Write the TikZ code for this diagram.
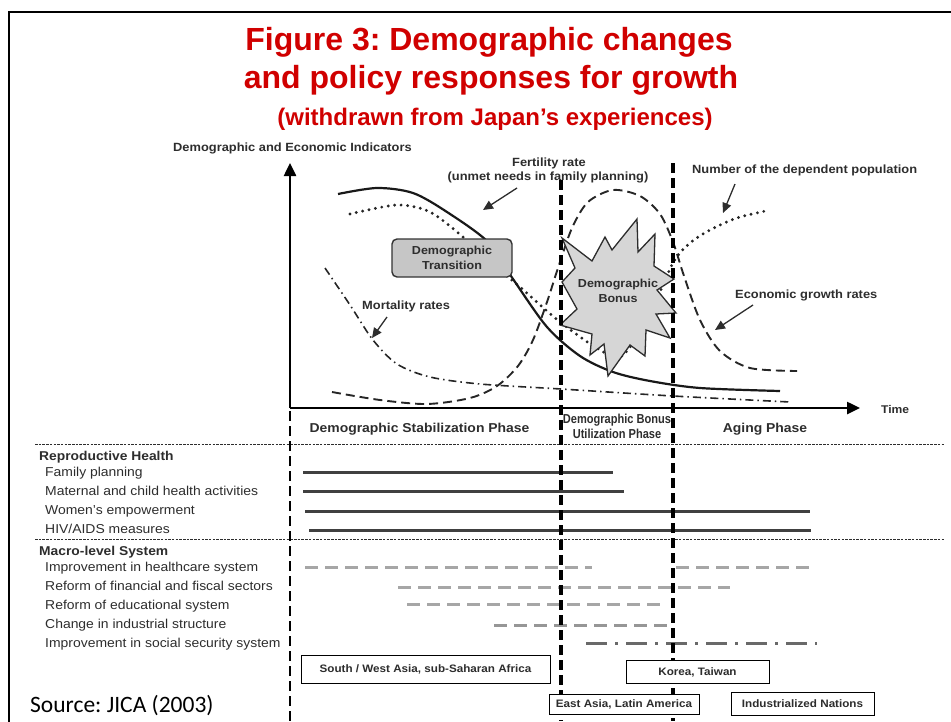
\documentclass[tikz,border=0pt]{standalone}
\usepackage{fontspec}
\setmainfont{Liberation Sans}
\newfontfamily\chartfont[FakeStretch=1.08]{Liberation Sans}
\newfontfamily\narrowfont[FakeStretch=0.85]{Liberation Sans}
\newfontfamily\srcfont{Carlito}
\usetikzlibrary{arrows.meta}
\frenchspacing

\definecolor{titlered}{RGB}{208,0,0}
\definecolor{ink}{RGB}{45,45,45}
\definecolor{barcol}{RGB}{64,64,64}
\definecolor{lightdash}{RGB}{166,166,166}
\definecolor{middash}{RGB}{150,150,150}
\definecolor{chaincol}{RGB}{105,105,105}
\definecolor{boxfill}{RGB}{198,198,198}
\definecolor{starfill}{RGB}{214,214,214}

\begin{document}
\begin{tikzpicture}[x=1pt,y=-1pt,
  every node/.style={inner sep=0pt},
  titletext/.style={font=\bfseries\fontsize{32}{36}\selectfont, text=titlered, anchor=base},
  subtitle/.style={font=\bfseries\fontsize{24}{28}\selectfont, text=titlered, anchor=base},
  rowlabel/.style={font=\chartfont\fontsize{12.9}{14}\selectfont, text=ink, anchor=base west},
  rowhead/.style={font=\chartfont\bfseries\fontsize{12.8}{14}\selectfont, text=ink, anchor=base west},
  phase/.style={font=\chartfont\bfseries\fontsize{12.9}{14}\selectfont, text=ink, anchor=base},
  curvelabel/.style={font=\chartfont\bfseries\fontsize{11.9}{13}\selectfont, text=ink},
  region/.style={draw=black, fill=white, line width=0.9, font=\chartfont\bfseries\fontsize{10.8}{12}\selectfont, text=ink},
  axisline/.style={line width=2.5, -{Triangle[length=13,width=12]}},
  phaseline/.style={line width=3.2, dash pattern=on 10 off 5},
  separator/.style={line width=0.9, draw=ink, dash pattern=on 2.5 off 1.2},
  pointer/.style={line width=1.3, draw=ink, -{Triangle[length=10,width=9]}},
  bar/.style={line width=3, draw=barcol},
  graybar/.style={line width=3, draw=lightdash, dash pattern=on 13 off 7},
  chainbar/.style={line width=3, draw=chaincol, dash pattern=on 21 off 8 on 3 off 8},
  fertility/.style={line width=2.2, draw=black!90},
  dependents/.style={line width=3.2, draw=black!85, line cap=round, dash pattern=on 0 off 6.5},
  growth/.style={line width=1.9, draw=black!85, dash pattern=on 9 off 5},
  mortality/.style={line width=1.6, draw=black!85, dash pattern=on 8 off 4 on 1.5 off 4}]

\useasboundingbox (0,0) rectangle (951,721);

% outer frame (top and left edges)
\draw[line width=2.2] (9,760) -- (9,12) -- (990,12);

% title
\node[titletext] (t1) at (489,50) {Figure 3: Demographic changes};
\node[titletext] (t2) at (491,88) {and policy responses for growth};
\node[subtitle] (t3) at (495,125) {(withdrawn from Japan’s experiences)};

% ---------- curves of the upper chart ----------
\draw[mortality] plot[smooth] coordinates {(325,268) (350,305) (373,340) (397,364) (430,377) (480,384) (561,389) (673,396) (790,402)};
\draw[growth] plot[smooth] coordinates {(332,392) (380,400) (427,404) (470,398) (497,386) (518,366) (533,340) (547,302) (558,268) (572,228) (588,202) (613,190) (640,196) (660,214) (673,242) (684,276) (700,320) (720,351) (750,368) (797,371)};
\draw[dependents] plot[smooth] coordinates {(350,214) (397,205) (430,212) (463,237) (490,262) (520,287) (560,322) (600,350) (622,356) (648,318) (673,263) (690,243) (710,230) (737,218) (770,210)};
\draw[fertility] plot[smooth] coordinates {(338,194) (377,188) (413,193) (447,212) (488,242) (513,279) (547,327) (580,356) (613,372) (650,381) (700,388) (780,391)};

% boxes drawn over the curves
\node[draw=black!80, fill=boxfill, rounded corners=5, line width=1.4,
      minimum width=120, minimum height=38, align=center,
      font=\chartfont\bfseries\fontsize{11.6}{15}\selectfont, text=ink] (dt) at (452,258) {Demographic\\Transition};

\draw[fill=starfill, draw=ink, line width=1.3]
  (562,238) -- (592,261) -- (605,237) -- (612,250) -- (637,219) -- (638,252) --
  (655,234) -- (654,266) -- (674,279) -- (657,290) -- (676,313) -- (656,314) --
  (670,338) -- (646,330) -- (645,356) -- (630,345) -- (608,376) -- (604,344) --
  (590,355) -- (592,334) -- (560,325) -- (577,309) -- (562,282) -- (575,268) -- cycle;
\node[align=center, font=\chartfont\bfseries\fontsize{11.6}{14.5}\selectfont, text=ink] (bonus) at (618,291) {Demographic\\Bonus};

% labels of the curves with their pointers
\node[curvelabel, anchor=base, align=center] (fert) at (549,166) {Fertility rate};
\node[curvelabel, anchor=base] (fert2) at (548,180) {(unmet needs in family planning)};
\coordinate (fertA) at (517,188); \coordinate (fertB) at (483,210);
\draw[pointer] (fertA) -- (fertB);

\node[curvelabel, anchor=base west] (dep) at (692,173) {Number of the dependent population};
\coordinate (depA) at (735,184); \coordinate (depB) at (723,213);
\draw[pointer] (depA) -- (depB);

\node[curvelabel, anchor=base west] (econ) at (735,298) {Economic growth rates};
\coordinate (econA) at (753,305); \coordinate (econB) at (715,330);
\draw[pointer] (econA) -- (econB);

\node[curvelabel, anchor=base west] (mort) at (362,309) {Mortality rates};
\coordinate (mortA) at (387,317); \coordinate (mortB) at (372,338);
\draw[pointer] (mortA) -- (mortB);

% axes
\coordinate (O) at (290,408);
\coordinate (ytip) at (290,163);
\coordinate (xtip) at (860,408);
\draw[axisline] (O) -- (ytip);
\draw[axisline] (O) -- (xtip);
\node[curvelabel, anchor=base west] (yname) at (173,151) {Demographic and Economic Indicators};
\node[curvelabel, anchor=base west, font=\chartfont\bfseries\fontsize{11.2}{12}\selectfont] (time) at (881,413) {Time};

% phases
\node[phase] (ph1) at (419.5,432) {Demographic Stabilization Phase};
\node[phase, font=\narrowfont\bfseries\fontsize{13}{14}\selectfont] (ph2a) at (617,423) {Demographic Bonus};
\node[phase, font=\narrowfont\bfseries\fontsize{13}{14}\selectfont] (ph2b) at (617,438) {Utilization Phase};
\node[phase] (ph3) at (765,432) {Aging Phase};

% separators
\draw[separator] (35,444) -- (945,444);
\draw[separator] (35,539) -- (945,539);

% row labels
\node[rowhead] (rh) at (39,460) {Reproductive Health};
\node[rowlabel] (r1) at (45,476) {Family planning};
\node[rowlabel] (r2) at (45,495.5) {Maternal and child health activities};
\node[rowlabel] (r3) at (45,514) {Women’s empowerment};
\node[rowlabel] (r4) at (45,533) {HIV/AIDS measures};
\node[rowhead] (mh) at (39,555) {Macro-level System};
\node[rowlabel] (m1) at (45,571.5) {Improvement in healthcare system};
\node[rowlabel] (m2) at (45,590) {Reform of financial and fiscal sectors};
\node[rowlabel] (m3) at (45,609) {Reform of educational system};
\node[rowlabel] (m4) at (45,628) {Change in industrial structure};
\node[rowlabel] (m5) at (45,647) {Improvement in social security system};

% timeline bars
\draw[bar] (303,472) -- (613,472);
\draw[bar] (303,491) -- (624,491);
\draw[bar] (305,511) -- (810,511);
\draw[bar] (309,530) -- (811,530);
\draw[graybar] (305,567) -- (592,567);
\draw[graybar] (676,567) -- (810,567);
\draw[graybar] (398,587) -- (730,587);
\draw[graybar] (407,604) -- (661,604);
\draw[graybar, draw=middash] (494,625) -- (670,625);
\draw[chainbar] (586,643) -- (817,643);

% phase boundaries
\draw[phaseline, line width=2.8] (290,411) -- (290,721);
\draw[phaseline] (561,180) -- (561,721);
\draw[phaseline] (673,163) -- (673,721);

% regions, boxed over the phase boundaries
\node[region, minimum width=249, minimum height=28] (rg1) at (425.5,669) {South / West Asia, sub-Saharan Africa};
\node[region, minimum width=143, minimum height=23] (rg2) at (697.5,672) {Korea, Taiwan};
\node[region, minimum width=150, minimum height=20] (rg3) at (624,704) {East Asia, Latin America};
\node[region, minimum width=143, minimum height=23] (rg4) at (802.5,703.5) {Industrialized Nations};

% source
\node[anchor=base west, font=\srcfont\fontsize{23.5}{26}\selectfont] (src) at (30,712) {Source: JICA (2003)};

\end{tikzpicture}
\end{document}
